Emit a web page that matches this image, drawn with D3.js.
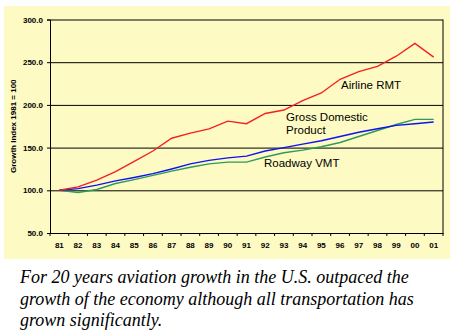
<!DOCTYPE html>
<html>
<head>
<meta charset="utf-8">
<script src="https://cdn.jsdelivr.net/npm/d3@7"></script>
<style>
  body { margin: 0; background: #fff; }
  svg { display: block; }
</style>
</head>
<body>
<script>
// years shown on the x axis
const years = ["81","82","83","84","85","86","87","88","89","90","91","92","93","94","95","96","97","98","99","00","01"];
const airlineRMT = [100,104,112,122,134,146,161,167,172,181,178,190,194,205,214,230,239,245,257,272,256];
const vmtBlue = [100,102,106,111,115,119.5,125,131,135,138,140,146,150,154,158,163,168,172,176,178,180];
const gdpGreen = [100,97.5,101,108,112.5,117.5,122.5,127,131,133,133,139,144,147,151,156,163,170,177,183,183];
const yTicks = [50,100,150,200,250,300];
const captionLines = [
  "For 20 years aviation growth in the U.S. outpaced the",
  "growth of the economy although all transportation has",
  "grown significantly."
];

const width = 458, height = 332;
const plot = {left: 50, right: 443, top: 19.5, bottom: 233};

const svg = d3.select("body").append("svg").attr("width", width).attr("height", height);

// yellow chart background
svg.append("rect")
  .attr("x", 4).attr("y", 6).attr("width", 446).attr("height", 253)
  .attr("fill", "#fdfbc3");

const x = d3.scaleBand().domain(years).range([plot.left, plot.right]).padding(0);
const y = d3.scaleLinear().domain([50, 300]).range([plot.bottom, plot.top]);

const sans = "'Liberation Sans', Arial, sans-serif";

//Gridlines
svg.append("g")
  .attr("transform", "translate(" + plot.left + ",0)")
  .call(d3.axisLeft(y).tickValues(yTicks).tickSize(-(plot.right - plot.left)).tickFormat(""))
  .call(g => g.select(".domain").remove())
  .selectAll("line").attr("stroke", "#000").attr("stroke-width", 1);

//Y-Axis
const yAxis = svg.append("g")
  .attr("transform", "translate(" + plot.left + ",0)")
  .call(d3.axisLeft(y).tickValues(yTicks).tickSize(3).tickPadding(4).tickFormat(d3.format(".1f")));
yAxis.select(".domain").attr("stroke", "#000");
yAxis.selectAll("text")
  .attr("font-family", sans)
  .attr("font-size", 8).attr("font-weight", "bold").attr("fill", "#000");

// right border
svg.append("line")
  .attr("x1", plot.right).attr("x2", plot.right)
  .attr("y1", y(300)).attr("y2", y(50))
  .attr("stroke", "#000");

//X-Axis
const xAxis = svg.append("g")
  .attr("transform", "translate(0," + plot.bottom + ")")
  .call(d3.axisBottom(x).tickSize(0).tickPadding(9));
xAxis.select(".domain").attr("stroke", "#000");
xAxis.selectAll("text")
  .attr("font-family", sans)
  .attr("font-size", 8).attr("font-weight", "bold").attr("fill", "#000");

// tick marks between categories
xAxis.selectAll("line.sep")
  .data(years.concat(["end"]))
  .enter().append("line")
  .attr("class", "sep")
  .attr("x1", (d) => d === "end" ? plot.right : x(d))
  .attr("x2", (d) => d === "end" ? plot.right : x(d))
  .attr("y1", 0).attr("y2", 3)
  .attr("stroke", "#000");

// y axis title
svg.append("text")
  .attr("transform", "translate(16," + ((plot.top + plot.bottom) / 2) + ") rotate(-90)")
  .attr("text-anchor", "middle")
  .attr("font-family", sans)
  .attr("font-size", 8).attr("font-weight", "bold")
  .text("Growth Index 1981 = 100");

//Lines
const line = d3.line()
  .x((d, i) => x(years[i]) + x.bandwidth() / 2)
  .y((d) => y(d));

const series = [
  {values: gdpGreen, color: "#2f9a5a"},
  {values: vmtBlue, color: "#1010f0"},
  {values: airlineRMT, color: "#f52020"}
];
svg.selectAll("path.series")
  .data(series)
  .enter().append("path")
  .attr("class", "series")
  .attr("d", (d) => line(d.values))
  .attr("fill", "none")
  .attr("stroke", (d) => d.color)
  .attr("stroke-width", 1.4);

// series labels
svg.append("text").attr("x", 341).attr("y", 89)
  .attr("font-family", sans).attr("font-size", 11.5).text("Airline RMT");
svg.append("text").attr("x", 286).attr("y", 121)
  .attr("font-family", sans).attr("font-size", 11.5).text("Gross Domestic");
svg.append("text").attr("x", 286).attr("y", 134)
  .attr("font-family", sans).attr("font-size", 11.5).text("Product");
svg.append("text").attr("x", 264).attr("y", 167)
  .attr("font-family", sans).attr("font-size", 11.5).text("Roadway VMT");

// caption
svg.selectAll("text.caption")
  .data(captionLines)
  .enter().append("text")
  .attr("class", "caption")
  .attr("x", 20)
  .attr("y", (d, i) => 283 + i * 21.5)
  .attr("font-family", "'Liberation Serif', 'DejaVu Serif', serif")
  .attr("font-style", "italic")
  .attr("font-size", 18)
  .text((d) => d);
</script>
</body>
</html>
